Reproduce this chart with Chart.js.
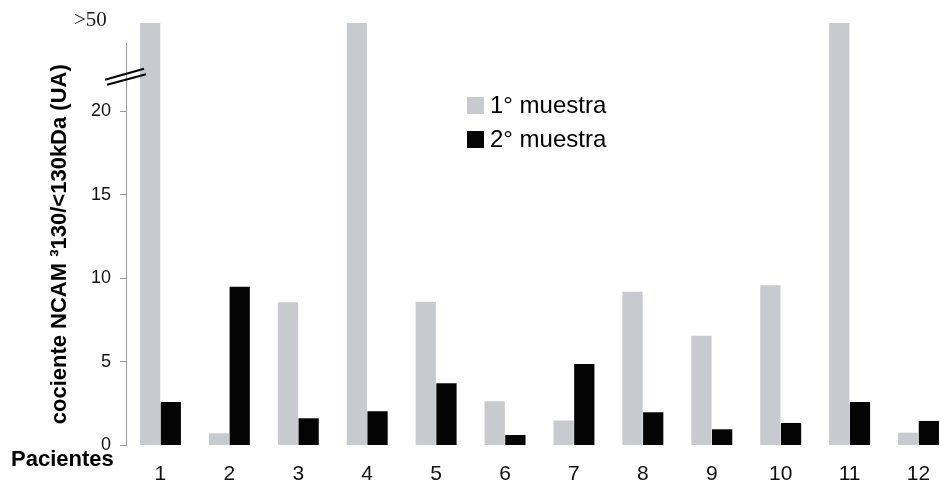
<!DOCTYPE html>
<html lang="es">
<head>
<meta charset="utf-8">
<title>Cociente NCAM</title>
<script src="https://cdn.jsdelivr.net/npm/chart.js@4.4.1/dist/chart.umd.min.js"></script>
<style>
  html, body { margin: 0; padding: 0; background: #fff; overflow: hidden; }
  #wrap { width: 960px; height: 488px; position: relative; }
</style>
</head>
<body>
<div id="wrap"><canvas id="grafico"></canvas></div>
<script>
// datos (los valores >50 se dibujan cortados arriba)
const pacientes = ['1', '2', '3', '4', '5', '6', '7', '8', '9', '10', '11', '12'];
const muestra1 = [25.3, 0.73, 8.57, 25.3, 8.6, 2.65, 1.5, 9.2, 6.57, 9.6, 25.3, 0.77];
const muestra2 = [2.6, 9.5, 1.63, 2.05, 3.72, 0.63, 4.88, 1.99, 0.97, 1.35, 2.6, 1.47];
const nombres = ['1° muestra', '2° muestra'];
const colores = ['#c7cace', '#050505'];

const sans = '"Liberation Sans", Arial, sans-serif';

// leyenda, corte del eje y textos sueltos
const extras = {
  id: 'extras',
  afterDraw(chart) {
    const ctx = chart.ctx;
    const y = chart.scales.y;
    const x0 = chart.chartArea.left;
    ctx.save();

    // marca de corte del eje
    const yc = y.getPixelForValue(22.2);
    ctx.strokeStyle = '#000';
    ctx.lineWidth = 2;
    ctx.beginPath();
    ctx.moveTo(x0 - 21, yc + 5); ctx.lineTo(x0 + 18, yc - 6);
    ctx.moveTo(x0 - 19, yc + 10); ctx.lineTo(x0 + 20, yc - 0.5);
    ctx.stroke();

    ctx.fillStyle = '#1a1a1a';
    ctx.font = '21px "Liberation Serif", "Times New Roman", serif';
    ctx.textBaseline = 'alphabetic';
    ctx.textAlign = 'left';
    ctx.fillText('>50', 74, 26);

    ctx.fillStyle = '#000';
    ctx.font = 'bold 22px ' + sans;
    ctx.fillText('Pacientes', 11, 466);

    // leyenda
    ctx.font = '24px ' + sans;
    ctx.textBaseline = 'middle';
    chart.data.datasets.forEach((ds, i) => {
      const ly = 105 + i * 34;
      ctx.fillStyle = ds.backgroundColor;
      ctx.fillRect(467, ly - 8, 17, 17);
      ctx.fillStyle = '#000';
      ctx.fillText(ds.label, 490, ly + 1);
    });
    ctx.restore();
  }
};

new Chart(document.getElementById('grafico'), {
  type: 'bar',
  data: {
    labels: pacientes,
    datasets: [{
      label: nombres[0],
      data: muestra1,
      backgroundColor: colores[0],
      clip: false
    }, {
      label: nombres[1],
      data: muestra2,
      backgroundColor: colores[1],
      clip: false
    }]
  },
  options: {
    responsive: true,
    maintainAspectRatio: false,
    animation: false,
    categoryPercentage: 0.6,
    barPercentage: 0.98,
    layout: { padding: { top: 43, right: 7, bottom: 0, left: 0 } },
    plugins: {
      legend: { display: false },
      tooltip: { enabled: false }
    },
    scales: {
      x: {
        grid: { display: false, drawTicks: false },
        border: { display: false },
        ticks: { color: '#111', font: { family: sans, size: 21 }, padding: 16, maxRotation: 0 },
        afterFit(s) { s.height = 42.5; }
      },
      y: {
        min: 0,
        max: 24.1,
        border: { color: '#9a9a9a', width: 1 },
        grid: { drawOnChartArea: false, drawTicks: true, tickLength: 6, color: '#9a9a9a' },
        ticks: { stepSize: 5, includeBounds: false, color: '#111', padding: 9, font: { family: sans, size: 18 } },
        title: {
          display: true,
          text: 'cociente NCAM ³130/<130kDa (UA)',
          color: '#000',
          font: { family: sans, size: 22, weight: 'bold' },
          padding: { top: 47, bottom: 0 }
        },
        afterFit(s) { s.width = 126; }
      }
    }
  },
  plugins: [extras]
});
</script>
</body>
</html>
